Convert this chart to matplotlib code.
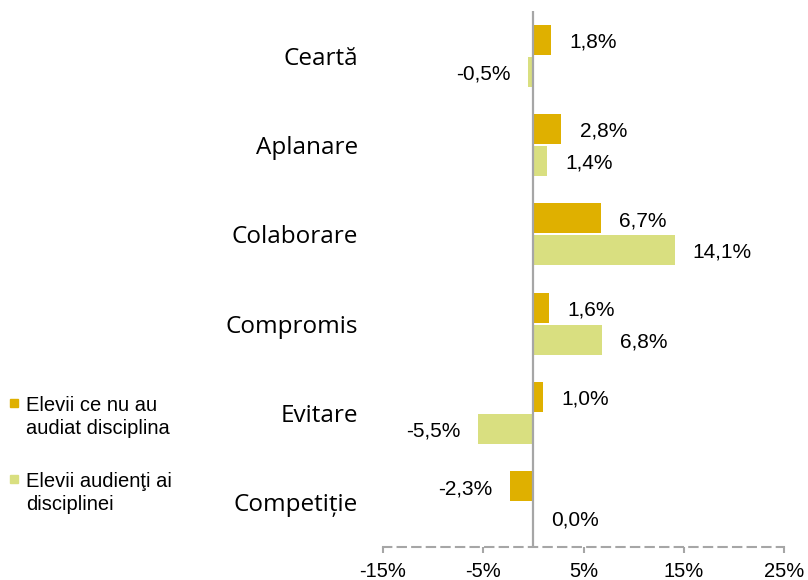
import matplotlib
matplotlib.use("Agg")
import matplotlib.pyplot as plt
from matplotlib.patches import Rectangle
import numpy as np

plt.rcParams['font.family'] = ['Liberation Sans', 'DejaVu Sans']

categories = ["Ceartă", "Aplanare", "Colaborare", "Compromis", "Evitare", "Competiție"]
not_attended = [1.8, 2.8, 6.7, 1.6, 1.0, -2.3]
attended = [-0.5, 1.4, 14.1, 6.8, -5.5, 0.0]
series_labels = ["Elevii ce nu au\naudiat disciplina", "Elevii audienţi ai\ndisciplinei"]
xticks = [-15, -5, 5, 15, 25]
xtick_labels = ["-15%", "-5%", "5%", "15%", "25%"]

gold = '#DFB000'
light = '#D9DF80'
gray = '#A6A6A6'

fig = plt.figure(figsize=(8.08, 5.8), dpi=100)
ax = fig.add_axes([383/808, 33/580, (784-383)/808, (569-33)/580])

y = np.arange(len(categories))
h = 0.335
off = 0.178
ax.barh(y - off, not_attended, height=h, color=gold, zorder=2)
ax.barh(y + off, attended, height=h, color=light, zorder=2)

def fmt(v):
    return f"{v:.1f}%".replace('.', ',')

for vals, o in ((not_attended, -off), (attended, off)):
    for yi, v in zip(y, vals):
        if v >= 0:
            ax.annotate(fmt(v), (v, yi + o), xytext=(13, -1.5), textcoords='offset points',
                        ha='left', va='center', fontsize=15)
        else:
            ax.annotate(fmt(v), (v, yi + o), xytext=(-13, -1.5), textcoords='offset points',
                        ha='right', va='center', fontsize=15)

ax.axvline(0, color=gray, lw=1.6, zorder=3)

ax.set_xlim(-15, 25)
ax.set_ylim(len(categories) - 0.5, -0.5)
ax.set_xticks(xticks)
ax.set_xticklabels(xtick_labels, fontsize=14.5)
ax.set_yticks(y)
ax.set_yticklabels(categories, fontsize=17.5, family=['Open Sans', 'DejaVu Sans'])
ax.tick_params(axis='y', length=0, pad=18)
ax.tick_params(axis='x', direction='out', length=4, width=1.5, color=gray, pad=6.5)
for s in ('top', 'right', 'left'):
    ax.spines[s].set_visible(False)
ax.spines['bottom'].set_color(gray)
ax.spines['bottom'].set_linewidth(1.5)
ax.spines['bottom'].set_linestyle((0, (4, 3)))

# legend (manual, markers aligned to first text line)
legend_colors = [gold, light]
legend_tops = [396, 472]
for lab, col, top in zip(series_labels, legend_colors, legend_tops):
    fig.patches.append(Rectangle((10/808, 1 - (top + 11)/580), 8/808, 8/580,
                                 transform=fig.transFigure, color=col))
    fig.text(26/808, 1 - top/580, lab, ha='left', va='top', fontsize=14.5,
             linespacing=1.25)

fig.savefig("out.png", dpi=100)
